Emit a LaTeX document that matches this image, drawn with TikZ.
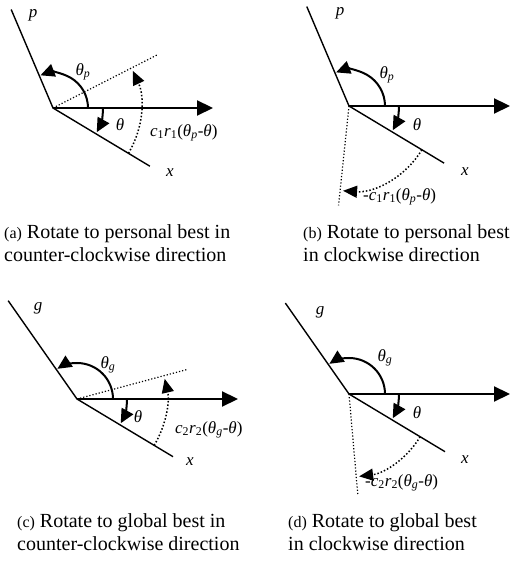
\documentclass[tikz,border=0pt]{standalone}
\usepackage{fontspec}
\setmainfont{Liberation Serif}
\usetikzlibrary{arrows.meta}
\begin{document}
\begin{tikzpicture}[x=1pt,y=1pt,
		axis/.style={line width=2.2pt, -{Triangle[length=16pt,width=15pt]}},
		ray/.style={line width=1.4pt},
		guide/.style={line width=1.2pt, dotted},
		turn/.style={line width=2pt, -{Triangle[length=14pt,width=13pt]}},
		sweep/.style={line width=1.5pt, dotted, -{Triangle[length=14pt,width=12pt]}},
		lab/.style={font=\fontsize{17}{20}\selectfont, inner sep=0pt},
		capt/.style={font=\fontsize{20}{23}\selectfont, align=left, anchor=north west, inner sep=0pt}
	]
		\useasboundingbox (0,0) rectangle (511,565);
		
		% (a) personal best, counter-clockwise
		\coordinate (oa) at (53,457);
		\path (oa) ++(113:107) coordinate (pa);
		\path (oa) ++(0:160) coordinate (ha);
		\path (oa) ++(-31:113) coordinate (xa);
		\path (oa) ++(27:118) coordinate (da);
		\draw[ray] (pa) -- (oa) -- (xa);
		\draw[guide] (oa) -- (da);
		\draw[axis] (oa) -- (ha);
		\draw[turn] ([shift={(0:35)}]oa) arc[start angle=0, end angle=111, radius=35];
		\draw[turn] ([shift={(0:50)}]oa) arc[start angle=0, end angle=-29, radius=50];
		\draw[sweep] ([shift={(-31:88)}]oa) arc[start angle=-31, end angle=25, radius=88];
		\node[lab] (pa-l) at (33,550) {\textit{p}};
		\node[lab] (tpa-l) at (83,493) {\textit{θ}\textsubscript{\textit{p}}};
		\node[lab] (ta-l) at (120,440) {\textit{θ}};
		\node[lab, anchor=west] (ca-l) at (150,432) {\textit{c}\textsubscript{1}\textit{r}\textsubscript{1}(\textit{θ}\textsubscript{\textit{p}}-\textit{θ})};
		\node[lab] (xa-l) at (170,392) {\textit{x}};
		\node[capt] (cap-a) at (4,341) {{\fontsize{16}{23}\selectfont(a)} Rotate to personal best in\\counter-clockwise direction};
		
		% (b) personal best, clockwise
		\coordinate (ob) at (349,459);
		\path (ob) ++(113:108) coordinate (pb);
		\path (ob) ++(0:161) coordinate (hb);
		\path (ob) ++(-31:111) coordinate (xb);
		\path (ob) ++(-96:100) coordinate (db);
		\draw[ray] (pb) -- (ob) -- (xb);
		\draw[guide] (ob) -- (db);
		\draw[axis] (ob) -- (hb);
		\draw[turn] ([shift={(0:36)}]ob) arc[start angle=0, end angle=111, radius=36];
		\draw[turn] ([shift={(0:50)}]ob) arc[start angle=0, end angle=-29, radius=50];
		\draw[sweep] ([shift={(-31:85)}]ob) arc[start angle=-31, end angle=-94, radius=85];
		\node[lab] (pb-l) at (340,552) {\textit{p}};
		\node[lab] (tpb-l) at (387,490) {\textit{θ}\textsubscript{\textit{p}}};
		\node[lab] (tb-l) at (417,440) {\textit{θ}};
		\node[lab] (xb-l) at (465,393) {\textit{x}};
		\node[lab, anchor=west] (cb-l) at (363,368) {-\textit{c}\textsubscript{1}\textit{r}\textsubscript{1}(\textit{θ}\textsubscript{\textit{p}}-\textit{θ})};
		\node[capt] (cap-b) at (303,341) {{\fontsize{16}{23}\selectfont(b)} Rotate to personal best\\in clockwise direction};
		
		% (c) global best, counter-clockwise
		\coordinate (oc) at (77,166);
		\path (oc) ++(125:120) coordinate (gc);
		\path (oc) ++(0:161) coordinate (hc);
		\path (oc) ++(-31:112) coordinate (xc);
		\path (oc) ++(15:115) coordinate (dc);
		\draw[ray] (gc) -- (oc) -- (xc);
		\draw[guide] (oc) -- (dc);
		\draw[axis] (oc) -- (hc);
		\draw[turn] ([shift={(0:36)}]oc) arc[start angle=0, end angle=123, radius=36];
		\draw[turn] ([shift={(0:50)}]oc) arc[start angle=0, end angle=-29, radius=50];
		\draw[sweep] ([shift={(-31:90)}]oc) arc[start angle=-31, end angle=13, radius=90];
		\node[lab] (gc-l) at (38,257) {\textit{g}};
		\node[lab] (tgc-l) at (108,200) {\textit{θ}\textsubscript{\textit{g}}};
		\node[lab] (tc-l) at (138,148) {\textit{θ}};
		\node[lab, anchor=west] (cc-l) at (175,135) {\textit{c}\textsubscript{2}\textit{r}\textsubscript{2}(\textit{θ}\textsubscript{\textit{g}}-\textit{θ})};
		\node[lab] (xc-l) at (190,103) {\textit{x}};
		\node[capt] (cap-c) at (17,52) {{\fontsize{16}{23}\selectfont(c)} Rotate to global best in\\counter-clockwise direction};
		
		% (d) global best, clockwise
		\coordinate (od) at (349,171);
		\path (od) ++(125:111) coordinate (gd);
		\path (od) ++(0:161) coordinate (hd);
		\path (od) ++(-31:112) coordinate (xd);
		\path (od) ++(-85:101) coordinate (dd);
		\draw[ray] (gd) -- (od) -- (xd);
		\draw[guide] (od) -- (dd);
		\draw[axis] (od) -- (hd);
		\draw[turn] ([shift={(0:36)}]od) arc[start angle=0, end angle=123, radius=36];
		\draw[turn] ([shift={(0:50)}]od) arc[start angle=0, end angle=-29, radius=50];
		\draw[sweep] ([shift={(-31:83)}]od) arc[start angle=-31, end angle=-83, radius=83];
		\node[lab] (gd-l) at (320,253) {\textit{g}};
		\node[lab] (tgd-l) at (385,207) {\textit{θ}\textsubscript{\textit{g}}};
		\node[lab] (td-l) at (417,152) {\textit{θ}};
		\node[lab] (xd-l) at (465,105) {\textit{x}};
		\node[lab, anchor=west] (cd-l) at (365,82) {-\textit{c}\textsubscript{2}\textit{r}\textsubscript{2}(\textit{θ}\textsubscript{\textit{g}}-\textit{θ})};
		\node[capt] (cap-d) at (288,52) {{\fontsize{16}{23}\selectfont(d)} Rotate to global best\\in clockwise direction};
	\end{tikzpicture}
\end{document}
